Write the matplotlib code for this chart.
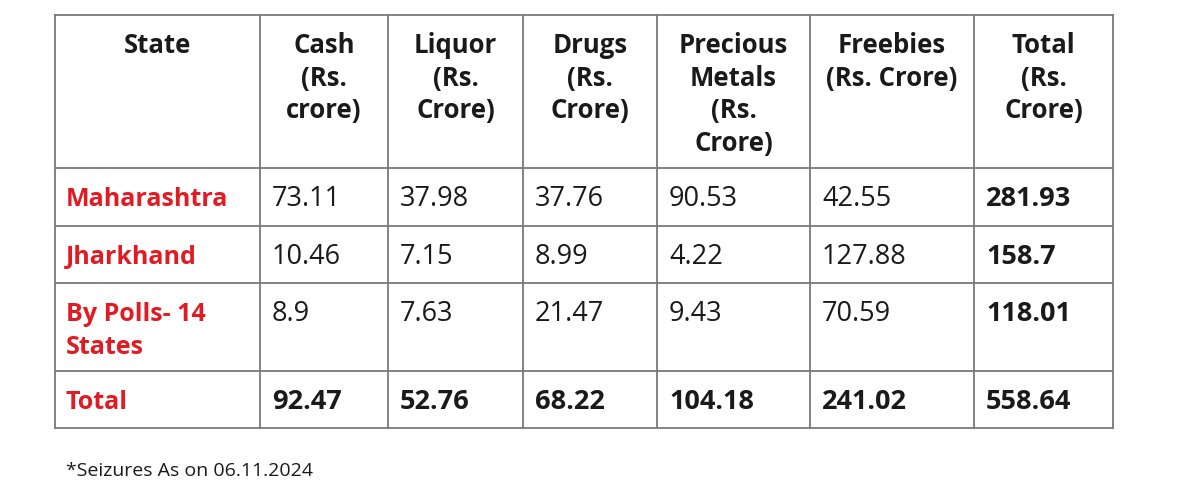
import matplotlib
matplotlib.use("Agg")
import matplotlib.pyplot as plt

# ---- data ----
headers = [["State"], ["Cash", "(Rs.", "crore)"], ["Liquor", "(Rs.", "Crore)"],
           ["Drugs", "(Rs.", "Crore)"], ["Precious", "Metals", "(Rs.", "Crore)"],
           ["Freebies", "(Rs. Crore)"], ["Total", "(Rs.", "Crore)"]]
states = [["Maharashtra"], ["Jharkhand"], ["By Polls- 14", "States"], ["Total"]]
cash = ["73.11", "10.46", "8.9", "92.47"]
liquor = ["37.98", "7.15", "7.63", "52.76"]
drugs = ["37.76", "8.99", "21.47", "68.22"]
metals = ["90.53", "4.22", "9.43", "104.18"]
freebies = ["42.55", "127.88", "70.59", "241.02"]
total = ["281.93", "158.7", "118.01", "558.64"]
footnote = "*Seizures As on 06.11.2024"

# ---- layout (pixels) ----
W, H = 1200, 501
col_x = [55, 260, 388, 523, 657, 810, 974, 1113]
row_y = [15, 168, 226, 283, 371, 428]

fam = ["Open Sans", "DejaVu Sans"]

fig = plt.figure(figsize=(W / 100, H / 100), dpi=100)
ax = fig.add_axes([0, 0, 1, 1])
ax.set_xlim(0, W)
ax.set_ylim(H, 0)
ax.axis("off")

lc = "#7a7a7a"
lw = 1.3
for x in col_x:
    ax.plot([x, x], [row_y[0], row_y[-1]], color=lc, lw=lw, solid_capstyle="projecting")
for y in row_y:
    ax.plot([col_x[0], col_x[-1]], [y, y], color=lc, lw=lw, solid_capstyle="projecting")

fs = 18.5
fs_num = 19.5
red = "#e21b23"
dark = "#1a1a1a"
lsp = 32.5

# headers
for j, lines in enumerate(headers):
    cx = (col_x[j] + col_x[j + 1]) / 2
    for i, t in enumerate(lines):
        ax.text(cx, 53 + lsp * i, t, ha="center", va="baseline", fontsize=fs,
                fontweight="bold", family=fam, color=dark)

cols = [cash, liquor, drugs, metals, freebies, total]
for r in range(4):
    base = row_y[r + 1] + 38
    for i, t in enumerate(states[r]):
        ax.text(66, base + 33 * i, t, ha="left", va="baseline", fontsize=18,
                fontweight="bold", family=fam, color=red)
    for c, vals in enumerate(cols):
        bold = (r == 3) or (c == 5)
        ax.text(col_x[c + 1] + 12, base, vals[r], ha="left", va="baseline",
                fontsize=fs_num, fontweight="bold" if bold else "normal",
                family=fam, color=dark)

ax.text(66, 476, footnote, ha="left", va="baseline", fontsize=14,
        family=fam, color=dark)

fig.savefig("out.png", dpi=100, facecolor="white")
